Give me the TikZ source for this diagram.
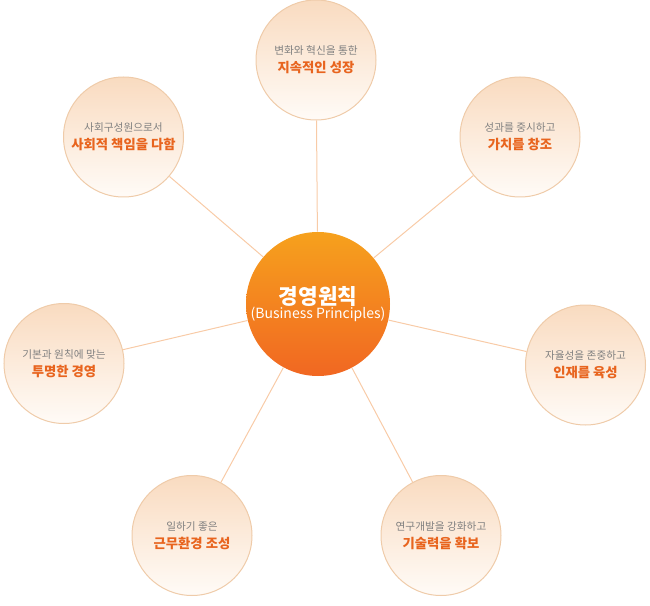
\documentclass[tikz,border=0pt]{standalone}
\usepackage{fontspec}
\newfontfamily\krfont{Noto Sans CJK KR}
\definecolor{petaltop}{HTML}{F9DBC0}
\definecolor{petalbot}{HTML}{FFFBF7}
\definecolor{petalborder}{HTML}{EFCBA9}
\definecolor{spokecol}{HTML}{F8CBA7}
\definecolor{graytxt}{HTML}{808080}
\definecolor{orangetxt}{HTML}{E8641E}
\definecolor{hubtop}{HTML}{F6A11D}
\definecolor{hubbot}{HTML}{F16722}
\newcommand{\mypetal}[2]{{\color{graytxt}\fontsize{8}{10}\selectfont #1}\\[1.5pt]{\color{orangetxt}\bfseries\fontsize{10}{12}\selectfont #2}}
\begin{document}
\begin{tikzpicture}[x=0.75pt,y=-0.75pt,
  petal/.style={circle, minimum size=90pt, inner sep=0pt, draw=petalborder, line width=0.75pt,
    top color=petaltop, bottom color=petalbot, align=center, font=\krfont},
  hub/.style={circle, minimum size=108pt, inner sep=0pt, top color=hubtop, bottom color=hubbot,
    align=center, font=\krfont, text=white},
  spoke/.style={draw=spokecol, line width=0.75pt}]
\useasboundingbox (0,0) rectangle (650,606);
\node[hub] (c) at (318,304) {{\bfseries\fontsize{16}{18}\selectfont 경영원칙}\\[-1pt]{\fontsize{10.5}{12}\selectfont (Business Principles)}};
\node[petal] (top) at (316,60) {\mypetal{변화와 혁신을 통한}{지속적인 성장}};
\node[petal] (tl) at (123.5,137) {\mypetal{사회구성원으로서}{사회적 책임을 다함}};
\node[petal] (tr) at (520,137) {\mypetal{성과를 중시하고}{가치를 창조}};
\node[petal] (lf) at (64,363.5) {\mypetal{기본과 원칙에 맞는}{투명한 경영}};
\node[petal] (rt) at (585.5,365) {\mypetal{자율성을 존중하고}{인재를 육성}};
\node[petal] (bl) at (192,535.5) {\mypetal{일하기 좋은}{근무환경 조성}};
\node[petal] (br) at (441,535.5) {\mypetal{연구개발을 강화하고}{기술력을 확보}};
\foreach \p in {top,tl,tr,lf,rt,bl,br} \draw[spoke] (c) -- (\p);
\end{tikzpicture}
\end{document}
